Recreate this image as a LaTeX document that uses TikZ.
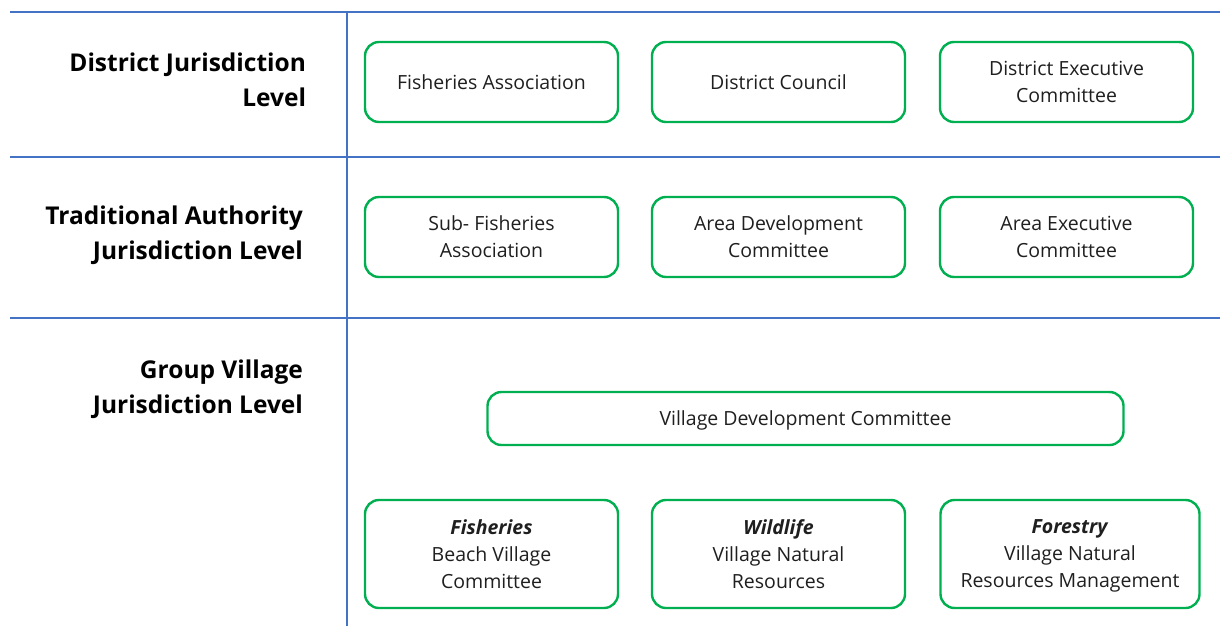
\documentclass[tikz,border=0pt]{standalone}
\usepackage{fontspec}
\setmainfont{Open Sans}
\begin{document}
\begin{tikzpicture}[x=1pt,y=-1pt,
  grid/.style={draw={rgb,255:red,68;green,114;blue,196}, line width=2.2pt},
  unit/.style={draw={rgb,255:red,0;green,176;blue,80}, line width=2.4pt, rounded corners=14pt,
    fill=white, align=center, inner sep=0pt, font=\fontsize{19.5}{27}\selectfont, text=black!88},
  level/.style={anchor=east, align=right, font=\fontsize{24.5}{35}\selectfont\bfseries, text=black}]
\useasboundingbox (0,0) rectangle (1220,626);
% level dividers
\coordinate (h1a) at (10,12);  \coordinate (h1b) at (1220,12);
\coordinate (h2a) at (10,157); \coordinate (h2b) at (1220,157);
\coordinate (h3a) at (10,318); \coordinate (h3b) at (1220,318);
\coordinate (vt) at (347,12);  \coordinate (vb) at (347,626);
\draw[grid] (h1a) -- (h1b);
\draw[grid] (h2a) -- (h2b);
\draw[grid] (h3a) -- (h3b);
\draw[grid] (vt) -- (vb);
% level labels
\node[level] (lvd) at (309.5,80) {District Jurisdiction\\Level};
\node[level] (lvt) at (306.5,235) {Traditional Authority\\Jurisdiction Level};
\node[level] (lvg) at (306.5,389) {Group Village\\Jurisdiction Level};
% district level
\node[unit, minimum width=253pt, minimum height=80pt] (fa) at (491.5,82) {Fisheries Association};
\node[unit, minimum width=253pt, minimum height=80pt] (dc) at (778.5,82) {District Council};
\node[unit, minimum width=253pt, minimum height=80pt] (dec) at (1066.5,82) {District Executive\\Committee};
% traditional authority level
\node[unit, minimum width=253pt, minimum height=80pt] (sfa) at (491.5,237) {Sub- Fisheries\\Association};
\node[unit, minimum width=253pt, minimum height=80pt] (adc) at (778.5,237) {Area Development\\Committee};
\node[unit, minimum width=253pt, minimum height=80pt] (aec) at (1066.5,237) {Area Executive\\Committee};
% group village level
\node[unit, minimum width=636pt, minimum height=53pt, text depth=0pt] (vdc) at (805.5,418.5) {Village Development Committee};
\node[unit, minimum width=253pt, minimum height=108pt] (bvc) at (491.5,554) {\textbf{\textit{Fisheries}}\\Beach Village\\Committee};
\node[unit, minimum width=253pt, minimum height=108pt] (vnr) at (778.5,554) {\textbf{\textit{Wildlife}}\\Village Natural\\Resources};
\node[unit, minimum width=259pt, minimum height=108pt] (vnrm) at (1070,554) {\textbf{\textit{Forestry}}\\Village Natural\\\smash{Resources Management}};
\end{tikzpicture}
\end{document}
